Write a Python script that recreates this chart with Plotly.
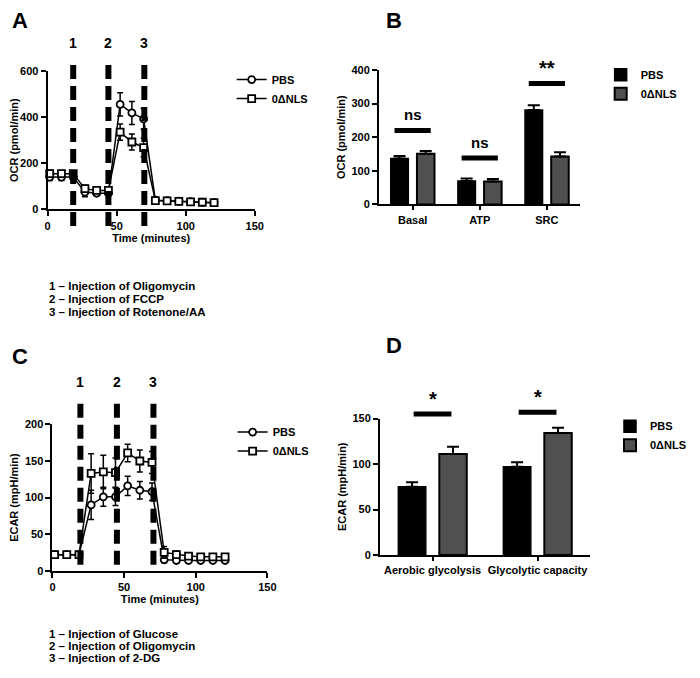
import plotly.graph_objects as go

# --- data -------------------------------------------------------------
TIME = [1.5, 10, 18.5, 27, 35.5, 44, 52.5, 61, 69.5, 78, 86.5, 95, 103.5, 112, 120.5]
INJ_OCR = [18.5, 44, 70]
INJ_ECAR = [19.5, 45, 70.5]

OCR_PBS = [140, 140, 140, 75, 70, 70, 455, 418, 392, 40, 38, 36, 34, 31, 29]
OCR_PBS_ERR = [15, 15, 15, 20, 10, 10, 50, 50, 45, 8, 7, 7, 6, 6, 5]
OCR_NLS = [155, 155, 155, 90, 82, 82, 335, 292, 268, 38, 37, 35, 33, 31, 29]
OCR_NLS_ERR = [15, 12, 12, 15, 10, 10, 35, 35, 40, 8, 7, 7, 6, 6, 5]

ECAR_PBS = [22, 22, 22, 90, 101, 101, 116, 110, 108, 15, 14, 14, 14, 14, 14]
ECAR_PBS_ERR = [3, 3, 3, 20, 13, 12, 13, 12, 12, 4, 3, 3, 3, 3, 3]
ECAR_NLS = [22, 22, 22, 133, 135, 134, 161, 150, 148, 25, 22, 20, 19, 19, 19]
ECAR_NLS_ERR = [3, 3, 3, 27, 23, 20, 12, 15, 15, 8, 5, 4, 4, 4, 4]

OCR_CATS = ["Basal", "ATP", "SRC"]
OCR_BAR_PBS = [137, 70, 281]
OCR_BAR_PBS_ERR = [7, 7, 14]
OCR_BAR_NLS = [151, 68, 143]
OCR_BAR_NLS_ERR = [8, 8, 12]
OCR_SIG = ["ns", "ns", "**"]
OCR_SIG_Y = [220, 138, 360]
OCR_MAX = 400

ECAR_CATS = ["Aerobic glycolysis", "Glycolytic capacity"]
ECAR_BAR_PBS = [75, 97]
ECAR_BAR_PBS_ERR = [5, 5]
ECAR_BAR_NLS = [111, 134]
ECAR_BAR_NLS_ERR = [8, 6]
ECAR_SIG = ["*", "*"]
ECAR_SIG_Y = [155, 157]
ECAR_MAX = 150

NOTES_OCR = ["1 – Injection of Oligomycin", "2 – Injection of FCCP", "3 – Injection of Rotenone/AA"]
NOTES_ECAR = ["1 – Injection of Glucose", "2 – Injection of Oligomycin", "3 – Injection of 2-DG"]

FONT = "Arial, Liberation Sans, sans-serif"
# page body has an 8px margin, so the figure is a bit smaller than the window
OFF = 8
W, H = 684, 662


def px(x):
    return (x - OFF) / W


def py(y):
    return 1 - (y - OFF) / H


fig = go.Figure()


def add_lines(xa, ya, pbs, pbs_err, nls, nls_err, legend):
    for name, vals, err, sym in [("PBS", pbs, pbs_err, "circle"),
                                 ("0ΔNLS", nls, nls_err, "square")]:
        fig.add_trace(go.Scatter(
            x=TIME, y=vals, name=name, xaxis=xa, yaxis=ya, legend=legend,
            mode="lines+markers",
            line=dict(color="black", width=1.5),
            marker=dict(symbol=sym, size=7, color="white",
                        line=dict(color="black", width=1.8)),
            error_y=dict(type="data", array=err, color="black", thickness=1.5, width=3),
            cliponaxis=False,
        ))


def add_bars(xa, ya, cats, pbs, pbs_err, nls, nls_err, legend):
    fig.add_trace(go.Bar(
        x=cats, y=pbs, name="PBS", xaxis=xa, yaxis=ya, legend=legend,
        marker=dict(color="black", line=dict(color="black", width=1.5)),
        error_y=dict(type="data", array=pbs_err, arrayminus=[0] * len(cats),
                     symmetric=False, color="black", thickness=2, width=6),
    ))
    fig.add_trace(go.Bar(
        x=cats, y=nls, name="0ΔNLS", xaxis=xa, yaxis=ya, legend=legend,
        marker=dict(color="#505050", line=dict(color="black", width=2)),
        error_y=dict(type="data", array=nls_err, arrayminus=[0] * len(cats),
                     symmetric=False, color="black", thickness=2, width=6),
    ))


add_lines("x", "y", OCR_PBS, OCR_PBS_ERR, OCR_NLS, OCR_NLS_ERR, "legend")
add_bars("x2", "y2", OCR_CATS, OCR_BAR_PBS, OCR_BAR_PBS_ERR, OCR_BAR_NLS, OCR_BAR_NLS_ERR, "legend2")
add_lines("x3", "y3", ECAR_PBS, ECAR_PBS_ERR, ECAR_NLS, ECAR_NLS_ERR, "legend3")
add_bars("x4", "y4", ECAR_CATS, ECAR_BAR_PBS, ECAR_BAR_PBS_ERR, ECAR_BAR_NLS, ECAR_BAR_NLS_ERR, "legend4")

tickfont = dict(family=FONT, size=11, color="black", weight="bold")
titlefont = dict(family=FONT, size=11, color="black", weight="bold")
ax = dict(showline=True, linecolor="black", linewidth=2, ticks="outside",
          tickcolor="black", tickwidth=2, ticklen=5, showgrid=False,
          zeroline=False, tickfont=tickfont, fixedrange=True)

shapes = []
annotations = []

# dashed injection lines + their numbers
for xa, inj, ytop, ybot in [("x", INJ_OCR, 60, 226), ("x3", INJ_ECAR, 405, 572)]:
    for i, t in enumerate(inj):
        shapes.append(dict(type="line", xref=xa, yref="paper", x0=t, x1=t,
                           y0=py(ytop), y1=py(ybot),
                           line=dict(color="black", width=6, dash="14px,7px")))
        annotations.append(dict(xref=xa, yref="paper", x=t, y=py(ytop - 22),
                                yanchor="middle", text=str(i + 1), showarrow=False,
                                font=dict(family=FONT, size=14, color="black", weight="bold")))

# significance bars (domain refs so they may sit above the axis top)
for xa, ya, sig, ys, ymax, half in [("x2", "y2", OCR_SIG, OCR_SIG_Y, OCR_MAX, 0.27),
                                     ("x4", "y4", ECAR_SIG, ECAR_SIG_Y, ECAR_MAX, 0.18)]:
    for i, (s, yv) in enumerate(zip(sig, ys)):
        shapes.append(dict(type="line", xref=xa, yref=ya + " domain", x0=i - half, x1=i + half,
                           y0=yv / ymax, y1=yv / ymax, line=dict(color="black", width=5)))
        annotations.append(dict(xref=xa, yref=ya + " domain", x=i, y=yv / ymax,
                                yshift=5 if s == "ns" else 2, yanchor="bottom",
                                text=s, showarrow=False,
                                font=dict(family=FONT, size=15 if s == "ns" else 20,
                                          color="black", weight="bold")))

# panel letters
for letter, x, y in [("A", 6, 15), ("B", 394, 15), ("C", 6, 357), ("D", 394, 346)]:
    annotations.append(dict(xref="paper", yref="paper", x=px(x), y=py(y),
                            xanchor="left", yanchor="middle", text=letter, showarrow=False,
                            font=dict(family=FONT, size=22, color="black", weight="bold")))

# footnotes, one line each
for notes, ys in [(NOTES_OCR, [285, 298, 312]), (NOTES_ECAR, [639, 652, 664])]:
    for line, y in zip(notes, ys):
        annotations.append(dict(xref="paper", yref="paper", x=px(44), y=py(y),
                                xanchor="left", yanchor="middle", align="left",
                                text=line, showarrow=False,
                                font=dict(family=FONT, size=11.5, color="black", weight="bold")))

legend_common = dict(bgcolor="rgba(0,0,0,0)", xanchor="left", yanchor="top",
                     font=dict(family=FONT, size=11, color="black", weight="bold"),
                     tracegroupgap=0, itemwidth=30)

fig.update_layout(
    width=W, height=H,
    paper_bgcolor="white", plot_bgcolor="white",
    margin=dict(l=0, r=0, t=0, b=0),
    barmode="group",
    shapes=shapes,
    annotations=annotations,
    xaxis=dict(ax, domain=[px(45), px(260)], range=[0, 150], tickvals=[0, 50, 100, 150],
               anchor="y", title=dict(text="Time (minutes)", font=titlefont, standoff=2)),
    yaxis=dict(ax, domain=[py(207), py(66)], range=[0, 600], tickvals=[0, 200, 400, 600],
               anchor="x", title=dict(text="OCR (pmol/min)", font=titlefont, standoff=4)),
    xaxis2=dict(ax, domain=[px(389), px(598)], anchor="y2", ticklen=4),
    yaxis2=dict(ax, domain=[py(202), py(65)], range=[0, OCR_MAX], tickvals=[0, 100, 200, 300, 400],
                anchor="x2", title=dict(text="OCR (pmol/min)", font=titlefont, standoff=4)),
    xaxis3=dict(ax, domain=[px(50), px(273)], range=[0, 150], tickvals=[0, 50, 100, 150],
                anchor="y3", title=dict(text="Time (minutes)", font=titlefont, standoff=2)),
    yaxis3=dict(ax, domain=[py(575), py(426)], range=[0, 200], tickvals=[0, 50, 100, 150, 200],
                anchor="x3", title=dict(text="ECAR (mpH/min)", font=titlefont, standoff=4)),
    xaxis4=dict(ax, domain=[px(390), px(608)], anchor="y4", ticklen=4),
    yaxis4=dict(ax, domain=[py(559), py(420)], range=[0, ECAR_MAX], tickvals=[0, 50, 100, 150],
                anchor="x4", title=dict(text="ECAR (mpH/min)", font=titlefont, standoff=4)),
    bargap=0.22, bargroupgap=0.33,
    legend=dict(legend_common, x=px(236), y=py(60)),
    legend2=dict(legend_common, x=px(619), y=py(55)),
    legend3=dict(legend_common, x=px(237), y=py(419)),
    legend4=dict(legend_common, x=px(629), y=py(413)),
)

fig.write_html("out.html")
